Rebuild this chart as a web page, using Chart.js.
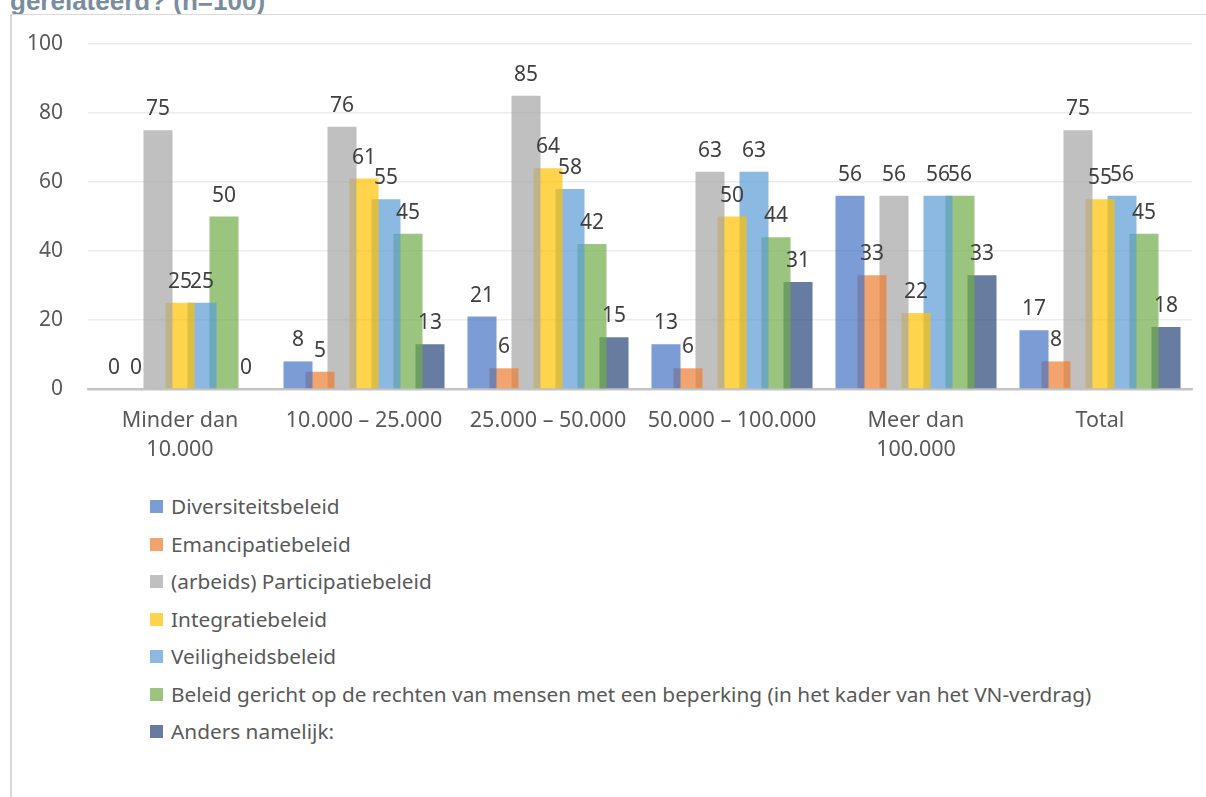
<!DOCTYPE html>
<html>
<head>
<meta charset="utf-8">
<script src="https://cdn.jsdelivr.net/npm/chart.js@4/dist/chart.umd.min.js"></script>
<style>
  body { margin: 0; background: #fff; width: 1206px; height: 797px; overflow: hidden; position: relative; font-family: 'Noto Sans', sans-serif; }
  #title { position: absolute; left: 10px; top: -14px; font: bold 26px 'Liberation Sans', Arial, sans-serif; color: #7a8d9e; white-space: nowrap; }
  #frame { position: absolute; left: 10px; top: 14px; width: 1300px; height: 900px; border-left: 2px solid #d9d9d9; border-top: 1px solid #d9d9d9; background: #fff; }
  #wrap { position: absolute; left: 10px; top: 14px; width: 1196px; height: 462px; }
  #legend { position: absolute; left: 150px; top: 488px; color: #595959; font-size: 20.8px; }
  .item { height: 37.5px; display: flex; align-items: center; line-height: 1; }
  .box { width: 13px; height: 13px; margin-right: 8px; flex: none; }
</style>
</head>
<body>
<div id="title">gerelateerd? (n=100)</div>
<div id="frame"></div>
<div id="wrap"><canvas id="chart"></canvas></div>
<div id="legend"></div>
<script>
// ── data ─────────────────────────────────────────────
const categories = [['Minder dan', '10.000'], '10.000 – 25.000', '25.000 – 50.000', '50.000 – 100.000', ['Meer dan', '100.000'], 'Total'];
const seriesNames = [
  'Diversiteitsbeleid',
  'Emancipatiebeleid',
  '(arbeids) Participatiebeleid',
  'Integratiebeleid',
  'Veiligheidsbeleid',
  'Beleid gericht op de rechten van mensen met een beperking (in het kader van het VN-verdrag)',
  'Anders namelijk:',
];
const diversiteit   = [0, 8, 21, 13, 56, 17];
const emancipatie   = [0, 5, 6, 6, 33, 8];
const participatie  = [75, 76, 85, 63, 56, 75];
const integratie    = [25, 61, 64, 50, 22, 55];
const veiligheid    = [25, 55, 58, 63, 56, 56];
const beperking     = [50, 45, 42, 44, 56, 45];
const anders        = [0, 13, 15, 31, 33, 18];
const yTicks = [0, 20, 40, 60, 80, 100];

const seriesValues = [diversiteit, emancipatie, participatie, integratie, veiligheid, beperking, anders];
const colors = ['#4472c4', '#ed7d31', '#a5a5a5', '#ffc000', '#5b9bd5', '#70ad47', '#264478'];

function alpha(hex, a) {
  const n = parseInt(hex.slice(1), 16);
  return `rgba(${n >> 16},${(n >> 8) & 255},${n & 255},${a})`;
}

// value labels above every bar
const valueLabels = {
  id: 'valueLabels',
  afterDatasetsDraw(chart) {
    const ctx = chart.ctx;
    ctx.save();
    ctx.font = '21px "Noto Sans"';
    ctx.fillStyle = '#404040';
    ctx.textAlign = 'center';
    ctx.textBaseline = 'alphabetic';
    chart.data.datasets.forEach((ds, i) => {
      chart.getDatasetMeta(i).data.forEach((bar, j) => {
        ctx.fillText(ds.data[j], bar.x, bar.y - 15);
      });
    });
    ctx.restore();
  },
};

new Chart(document.getElementById('chart'), {
  type: 'bar',
  data: {
    labels: categories,
    datasets: seriesNames.map((name, i) => ({
      label: name,
      data: seriesValues[i],
      backgroundColor: alpha(colors[i], 0.7),
      borderWidth: 0,
      categoryPercentage: 0.837,
      barPercentage: 1.32,
    })),
  },
  options: {
    responsive: true,
    maintainAspectRatio: false,
    animation: false,
    layout: { padding: { top: 30, left: 10, right: 14, bottom: 7 } },
    plugins: {
      legend: { display: false },
      tooltip: { enabled: false },
    },
    scales: {
      y: {
        min: 0,
        max: 100,
        afterBuildTicks: s => { s.ticks = yTicks.map(v => ({ value: v })); },
        afterFit: s => { s.width = 68; s.paddingTop = 0; s.paddingBottom = 0; },
        ticks: { color: '#595959', font: { family: 'Noto Sans', size: 21 }, padding: 25 },
        grid: { color: '#ececec', lineWidth: 1.5, drawTicks: false },
        border: { display: false },
      },
      x: {
        afterFit: s => { s.height = 80; },
        ticks: { color: '#595959', font: { family: 'Noto Sans', size: 21.5, lineHeight: 1.36 }, padding: 17, maxRotation: 0, autoSkip: false },
        grid: { display: false, drawTicks: false },
        border: { color: '#c4c4c4', width: 2.5 },
      },
    },
  },
  plugins: [valueLabels],
});

// legend, one series per row
const legend = document.getElementById('legend');
seriesNames.forEach((name, i) => {
  const row = document.createElement('div');
  row.className = 'item';
  row.innerHTML = `<span class="box" style="background:${alpha(colors[i], 0.7)}"></span><span>${name}</span>`;
  legend.appendChild(row);
});
</script>
</body>
</html>
